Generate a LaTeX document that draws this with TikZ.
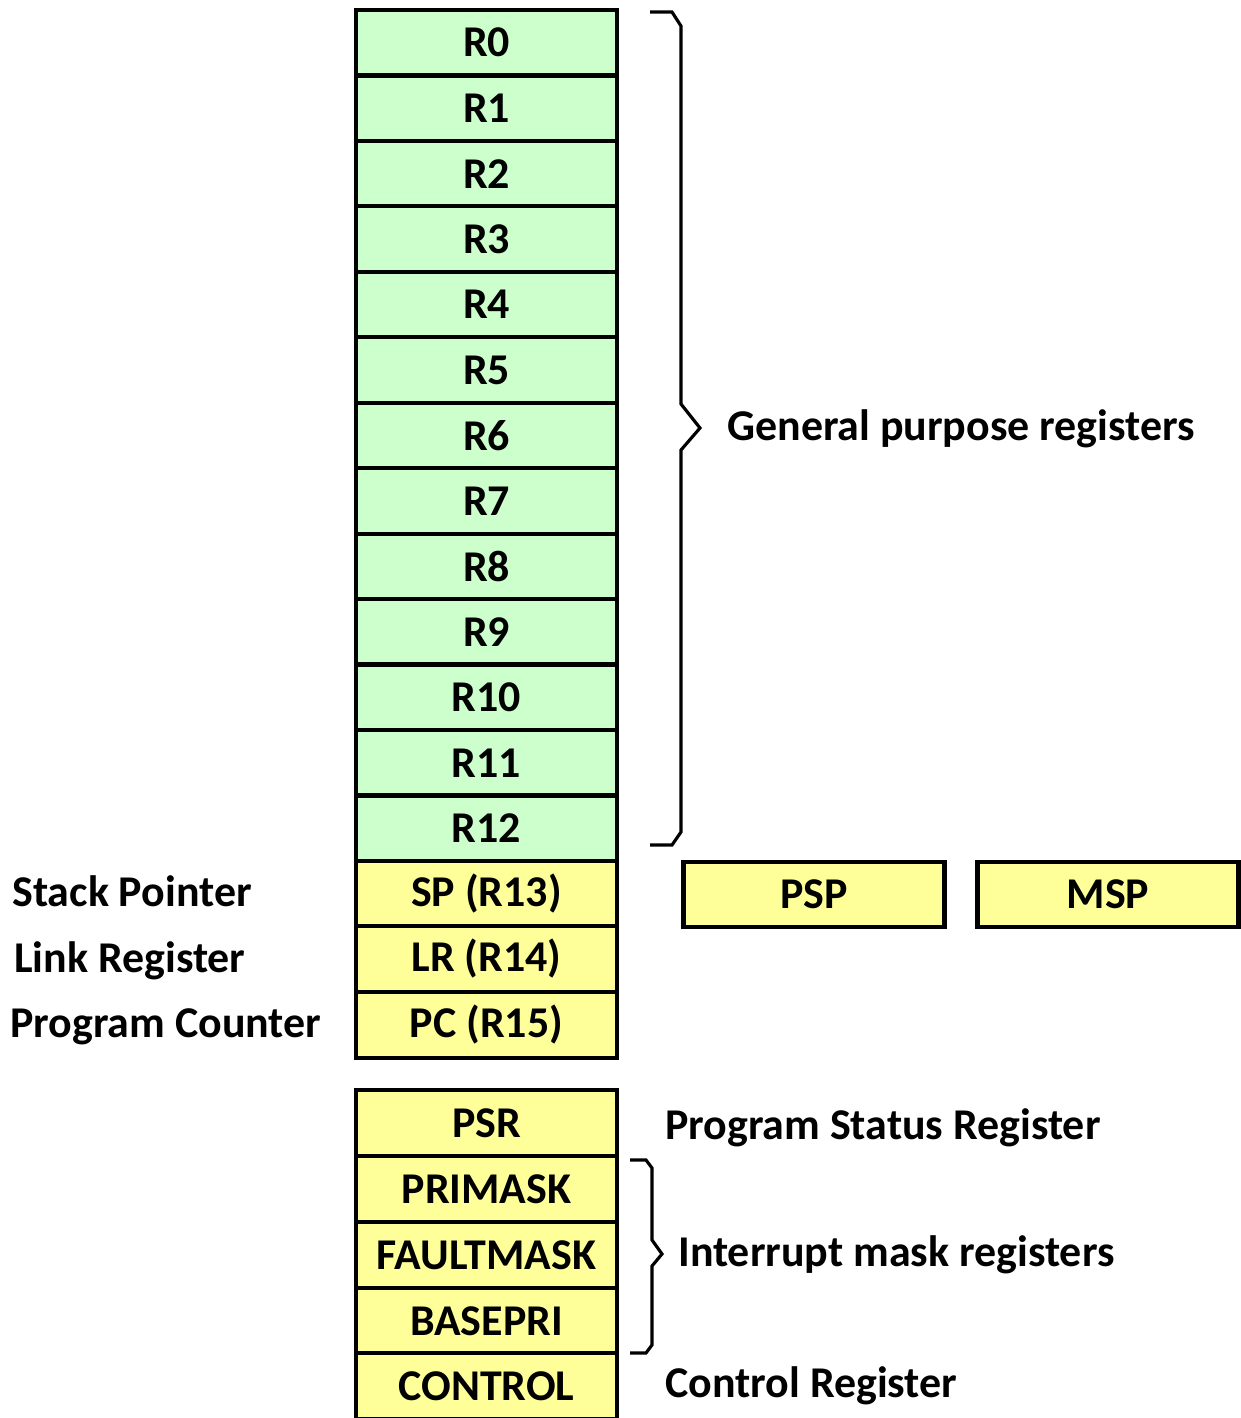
\documentclass[tikz,border=0pt]{standalone}
\usepackage{fontspec}
\setmainfont{Carlito}
\usepackage{tikz}
\usetikzlibrary{positioning}

\definecolor{gprgreen}{RGB}{204,255,204}
\definecolor{spryellow}{RGB}{255,255,153}

\tikzset{
  regbox/.style={draw=black,line width=2.4pt,minimum width=5.22cm,minimum height=1.31cm,
    inner sep=0pt,font=\fontsize{25}{30}\selectfont\bfseries},
  gpreg/.style={regbox,fill=gprgreen},
  spreg/.style={regbox,fill=spryellow},
  lbl/.style={inner sep=0pt,anchor=base west,font=\fontsize{25}{30}\selectfont\bfseries},
  brace/.style={line width=1.8pt,line join=miter}
}

\begin{document}
\begin{tikzpicture}[x=0.02cm,y=-0.02cm]
\useasboundingbox (0,0) rectangle (1241,1418);
% general purpose registers
\foreach \i in {0,...,12}{
  \node[gpreg] (r\i) at (486.5,{10+65.46*(\i+0.5)}) {R\i};
}
% special registers
\node[spreg] (sp) at (486.5,893.5) {SP (R13)};
\node[spreg] (lr) at (486.5,959) {LR (R14)};
\node[spreg] (pc) at (486.5,1025) {PC (R15)};
\node[spreg] (psp) at (814,894.5) {PSP};
\node[spreg] (msp) at (1108,894.5) {MSP};
\node[spreg] (psr) at (486.5,1123) {PSR};
\node[spreg] (primask) at (486.5,1189) {PRIMASK};
\node[spreg] (faultmask) at (486.5,1255) {FAULTMASK};
\node[spreg] (basepri) at (486.5,1321) {BASEPRI};
\node[spreg] (control) at (486.5,1386) {CONTROL};
% braces
\draw[brace] (650,12) -- (672,12) -- (681,26) -- (681,404) -- (700,428) -- (681,450) -- (681,832) -- (672,845) -- (650,845);
\draw[brace] (630,1160) -- (646,1160) -- (652,1168) -- (652,1240) -- (662,1254) -- (652,1266) -- (652,1345) -- (646,1353) -- (630,1353);
% labels
\node[lbl] (gprlbl) at (727,440) {General purpose registers};
\node[lbl] (splbl) at (12,906) {Stack Pointer};
\node[lbl] (lrlbl) at (14,972) {Link Register};
\node[lbl] (pclbl) at (10,1037) {Program Counter};
\node[lbl] (psrlbl) at (665,1139) {Program Status Register};
\node[lbl] (masklbl) at (678,1266) {Interrupt mask registers};
\node[lbl] (ctrllbl) at (665,1397) {Control Register};
\end{tikzpicture}
\end{document}
